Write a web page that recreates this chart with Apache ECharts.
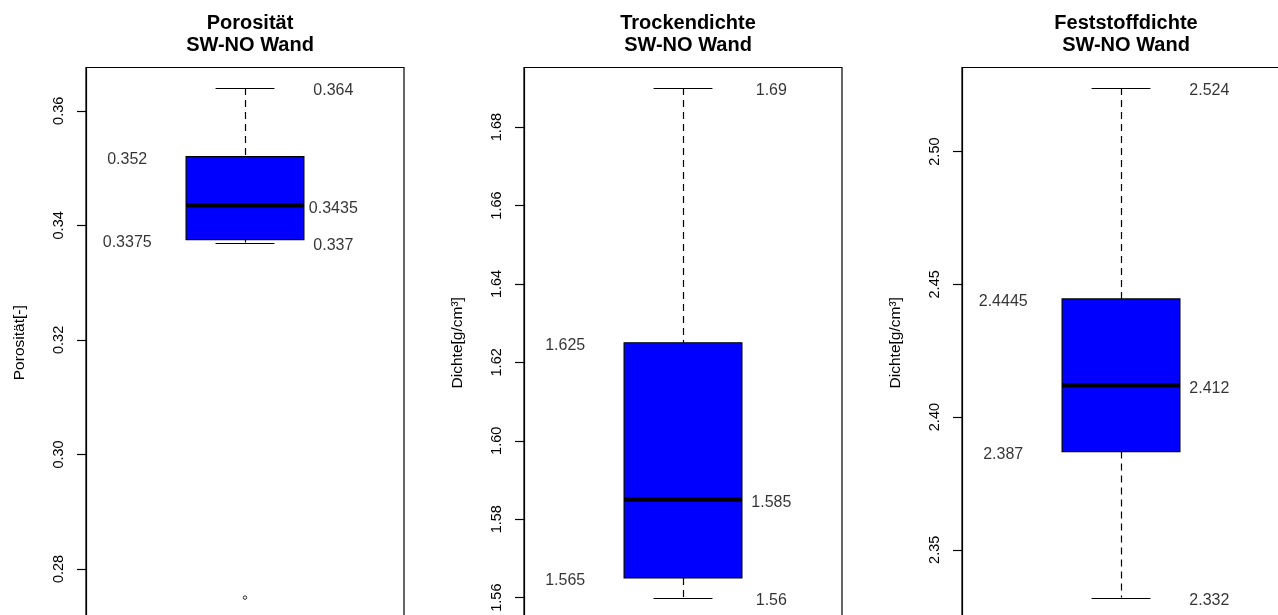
<!DOCTYPE html>
<html><head><meta charset="utf-8">
<script src="https://cdn.jsdelivr.net/npm/echarts@6/dist/echarts.min.js"></script>
<style>html,body{margin:0;padding:0;background:#fff}#c{width:1278px;height:615px}</style>
</head><body><div id="c"></div>
<script>
// ---- data ----
const panelNames = ['Porosität', 'Trockendichte', 'Feststoffdichte'];
const panelSubtitle = 'SW-NO Wand';
const axisNames = ['Porosität[-]', 'Dichte[g/cm³]', 'Dichte[g/cm³]'];
// five-number summaries: [lower whisker, Q1, median, Q3, upper whisker]
const porositaet = [0.337, 0.3375, 0.3435, 0.352, 0.364];
const trockendichte = [1.56, 1.565, 1.585, 1.625, 1.69];
const feststoffdichte = [2.332, 2.387, 2.412, 2.4445, 2.524];
const porositaetOutliers = [0.275];
const trockendichteOutliers = [];
const feststoffdichteOutliers = [];
const porositaetTicks = [0.28, 0.30, 0.32, 0.34, 0.36];
const trockendichteTicks = [1.56, 1.58, 1.60, 1.62, 1.64, 1.66, 1.68];
const feststoffdichteTicks = [2.35, 2.40, 2.45, 2.50];

// ---- layout / style ----
const statsList = [porositaet, trockendichte, feststoffdichte];
const outlierList = [porositaetOutliers, trockendichteOutliers, feststoffdichteOutliers];
const tickList = [porositaetTicks, trockendichteTicks, feststoffdichteTicks];
const gridLefts = [86, 524, 962];
const gridWidth = 318;
const gridTop = 67.5;
const gridHeight = 550.5;
const BOX_X = 1, BOX_HALF = 0.2, CAP_HALF = 0.1;
const LEFT_LABEL_X = 0.6, RIGHT_LABEL_X = 1.3;
const FONT = "'Liberation Sans', Arial, sans-serif";

function renderBox(params, api) {
  const x = api.value(0);
  const lo = api.value(1), q1 = api.value(2), med = api.value(3), q3 = api.value(4), hi = api.value(5);
  const p = (xx, yy) => api.coord([xx, yy]);
  const c = p(x, med);
  const boxL = p(x - BOX_HALF, q3), boxR = p(x + BOX_HALF, q1);
  const capL = p(x - CAP_HALF, hi), capR = p(x + CAP_HALF, lo);
  const yHi = p(x, hi)[1], yLo = p(x, lo)[1], yQ1 = boxR[1], yQ3 = boxL[1], yMed = c[1];
  const cx = Math.round(c[0]) + 0.5;
  const dash = { stroke: '#000', lineWidth: 1.2, lineDash: [7, 5], fill: null };
  const solid = { stroke: '#000', lineWidth: 1.2, fill: null };
  return {
    type: 'group',
    children: [
      { type: 'line', shape: { x1: cx, y1: yHi, x2: cx, y2: yQ3 }, style: dash },
      { type: 'line', shape: { x1: cx, y1: yQ1, x2: cx, y2: yLo }, style: dash },
      { type: 'line', shape: { x1: capL[0], y1: Math.round(yHi) + 0.5, x2: capR[0], y2: Math.round(yHi) + 0.5 }, style: solid },
      { type: 'line', shape: { x1: capL[0], y1: Math.round(yLo) + 0.5, x2: capR[0], y2: Math.round(yLo) + 0.5 }, style: solid },
      { type: 'rect', shape: { x: boxL[0], y: yQ3, width: boxR[0] - boxL[0], height: yQ1 - yQ3 },
        style: { fill: '#0000ff', stroke: '#000', lineWidth: 1.2 } },
      { type: 'line', shape: { x1: boxL[0], y1: yMed, x2: boxR[0], y2: yMed }, style: { stroke: '#000', lineWidth: 4.5 } }
    ]
  };
}

const grid = [], xAxis = [], yAxis = [], series = [], title = [];
statsList.forEach((st, i) => {
  const all = st.concat(outlierList[i]);
  const dmin = Math.min(...all), dmax = Math.max(...all);
  const ext = (dmax - dmin) * 0.04;
  grid.push({ left: gridLefts[i], top: gridTop, width: gridWidth, height: gridHeight,
    outerBoundsMode: 'none',
    show: true, borderColor: '#000', borderWidth: 1.2, backgroundColor: 'transparent', containLabel: false });
  xAxis.push({ gridIndex: i, type: 'value', min: 0.46, max: 1.54, show: false });
  yAxis.push({
    gridIndex: i, type: 'value', min: dmin - ext, max: dmax + ext,
    name: axisNames[i], nameLocation: 'middle', nameGap: 58,
    nameTextStyle: { fontFamily: FONT, fontSize: 15.5, color: '#000' },
    axisLine: { show: true, lineStyle: { color: '#000', width: 1.2 } },
    axisTick: { show: true, length: 9, lineStyle: { color: '#000', width: 1.2 }, customValues: tickList[i] },
    axisLabel: { show: true, rotate: 90, margin: 20, fontFamily: FONT, fontSize: 14.5, color: '#000',
      customValues: tickList[i], formatter: v => Number(v).toFixed(2) },
    splitLine: { show: false }
  });
  title.push({
    text: panelNames[i] + '\n' + panelSubtitle,
    left: gridLefts[i] + gridWidth / 2, top: 7, textAlign: 'center',
    textStyle: { fontFamily: FONT, fontSize: 20, fontWeight: 'bold', color: '#000', lineHeight: 22 }
  });
  series.push({
    type: 'custom', xAxisIndex: i, yAxisIndex: i, renderItem: renderBox, silent: true,
    data: [[BOX_X].concat(st)], encode: { x: 0, y: [1, 2, 3, 4, 5] }, clip: false
  });
  if (outlierList[i].length) {
    series.push({
      type: 'scatter', xAxisIndex: i, yAxisIndex: i, silent: true, symbol: 'circle', symbolSize: 3.5,
      itemStyle: { color: '#fff', borderColor: '#000', borderWidth: 1 },
      data: outlierList[i].map(v => [BOX_X, v])
    });
  }
  const labelPts = [[LEFT_LABEL_X, st[3]], [LEFT_LABEL_X, st[1]], [RIGHT_LABEL_X, st[4]], [RIGHT_LABEL_X, st[2]], [RIGHT_LABEL_X, st[0]]];
  series.push({
    type: 'scatter', xAxisIndex: i, yAxisIndex: i, silent: true, symbolSize: 0,
    data: labelPts,
    label: { show: true, position: 'inside', offset: [0, 3], fontFamily: FONT, fontSize: 16, color: '#000',
      formatter: p => String(p.value[1]) }
  });
});

const chart = echarts.init(document.getElementById('c'), null, { renderer: 'canvas' });
chart.setOption({ animation: false, backgroundColor: '#fff', title, grid, xAxis, yAxis, series });
</script>
</body></html>
